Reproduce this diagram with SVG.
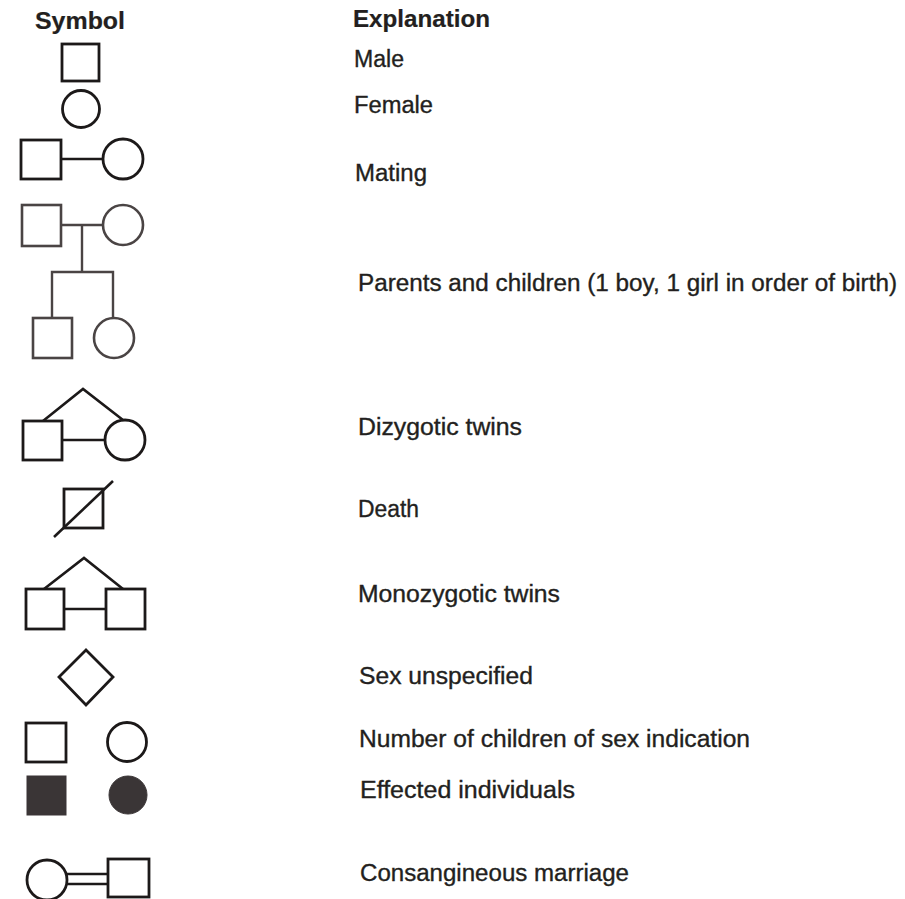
<svg xmlns="http://www.w3.org/2000/svg" width="905" height="899" viewBox="0 0 905 899">
<style>
.s{fill:none;stroke:#1c1919;stroke-width:2.8}
.g{fill:none;stroke:#4a4444;stroke-width:2.6}
.f{fill:#3a3536;stroke:#3a3536;stroke-width:1}
.ln{fill:none;stroke:#1c1919;stroke-width:2.6}
.lg{fill:none;stroke:#4a4444;stroke-width:2.4}
text{font-family:"Liberation Sans",Arial,sans-serif;font-size:23px;fill:#231f20;stroke:#231f20;stroke-width:0.35}
.h{font-weight:bold;stroke-width:0.2}
</style>
<rect width="905" height="899" fill="#ffffff"/>
<g id="headers">
<text class="h" x="35" y="29" textLength="90" lengthAdjust="spacingAndGlyphs">Symbol</text>
<text class="h" x="353" y="27" textLength="137" lengthAdjust="spacingAndGlyphs">Explanation</text>
</g>
<g id="male"><rect class="s" x="62" y="44" width="37" height="37"/></g>
<g id="female"><circle class="s" cx="81" cy="109" r="18.5"/></g>
<g id="mating-male"><rect class="s" x="21" y="140" width="40" height="39"/></g>
<g id="mating-female"><circle class="s" cx="123" cy="159" r="20"/></g>
<g id="parent-male"><rect class="g" x="22" y="205" width="39" height="41"/></g>
<g id="parent-female"><circle class="g" cx="123" cy="225" r="20"/></g>
<g id="child-boy"><rect class="g" x="33" y="318" width="39" height="40"/></g>
<g id="child-girl"><circle class="g" cx="114" cy="338" r="20"/></g>
<g id="dz-male"><rect class="s" x="23" y="421" width="39" height="39"/></g>
<g id="dz-female"><circle class="s" cx="125" cy="440" r="20"/></g>
<g id="death"><rect class="s" x="64" y="489" width="39" height="39"/></g>
<g id="mz-left"><rect class="s" x="26" y="589" width="38" height="40"/></g>
<g id="mz-right"><rect class="s" x="106" y="589" width="39" height="40"/></g>
<g id="unspecified"><polygon class="s" points="86,650 113,677 86,705 59,677"/></g>
<g id="num-male"><rect class="s" x="26" y="723" width="40" height="39"/></g>
<g id="num-female"><circle class="s" cx="127" cy="742" r="19.5"/></g>
<g id="aff-male"><rect class="f" x="27" y="776" width="39" height="39"/></g>
<g id="aff-female"><circle class="f" cx="128" cy="795" r="19"/></g>
<g id="cons-female"><circle class="s" cx="47" cy="880" r="20"/></g>
<g id="cons-male"><rect class="s" x="108" y="859" width="41" height="38"/></g>
<g id="connectors">
<line class="ln" x1="61" y1="159" x2="103" y2="159"/>
<line class="lg" x1="61" y1="225" x2="103" y2="225"/>
<polyline class="lg" points="82,225 82,272"/>
<polyline class="lg" points="52,318 52,272 113,272 113,318"/>
<line class="ln" x1="62" y1="440" x2="105" y2="440"/>
<polyline class="ln" points="43,421 83,389 123,420"/>
<line class="ln" x1="54" y1="537" x2="113" y2="481"/>
<line class="ln" x1="64" y1="609" x2="106" y2="609"/>
<polyline class="ln" points="44,589 84,558 123,589"/>
<line class="ln" x1="67" y1="874" x2="108" y2="874"/>
<line class="ln" x1="67" y1="884" x2="108" y2="884"/>
</g>
<g id="explanations">
<text x="354" y="67" textLength="50" lengthAdjust="spacingAndGlyphs">Male</text>
<text x="354" y="113" textLength="79" lengthAdjust="spacingAndGlyphs">Female</text>
<text x="355" y="181" textLength="72" lengthAdjust="spacingAndGlyphs">Mating</text>
<text x="358" y="291" textLength="539" lengthAdjust="spacingAndGlyphs">Parents and children (1 boy, 1 girl in order of birth)</text>
<text x="358" y="435" textLength="164" lengthAdjust="spacingAndGlyphs">Dizygotic twins</text>
<text x="358" y="517" textLength="61" lengthAdjust="spacingAndGlyphs">Death</text>
<text x="358" y="602" textLength="202" lengthAdjust="spacingAndGlyphs">Monozygotic twins</text>
<text x="359" y="684" textLength="174" lengthAdjust="spacingAndGlyphs">Sex unspecified</text>
<text x="359" y="747" textLength="391" lengthAdjust="spacingAndGlyphs">Number of children of sex indication</text>
<text x="360" y="798" textLength="215" lengthAdjust="spacingAndGlyphs">Effected individuals</text>
<text x="360" y="881" textLength="269" lengthAdjust="spacingAndGlyphs">Consangineous marriage</text>
</g>
</svg>
